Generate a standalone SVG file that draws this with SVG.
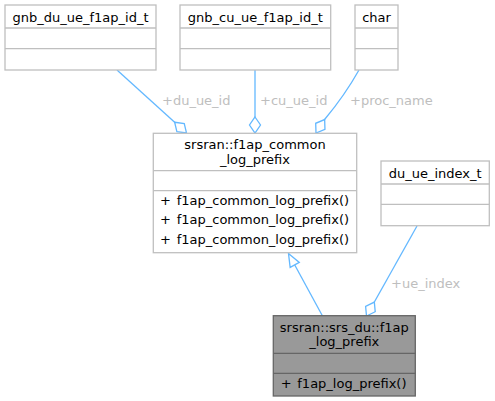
<svg xmlns="http://www.w3.org/2000/svg" width="495" height="401" viewBox="0 0 495 401">
<style>
text{font-family:"DejaVu Sans",sans-serif;font-size:13px;fill:#000}
.t{text-anchor:middle}
.lbl{fill:#bebebe}
.box{fill:#fff;stroke:#bfbfbf;stroke-width:1.3}
.cur{fill:#999;stroke:#666;stroke-width:1.3}
.dv{stroke:#bfbfbf;stroke-width:1.3}
.dvc{stroke:#666;stroke-width:1.3}
.e{fill:none;stroke:#63b8ff;stroke-width:1.3}
</style>
<defs>
<marker id="dia" markerUnits="userSpaceOnUse" markerWidth="20" markerHeight="14" refX="16" refY="7" orient="auto" overflow="visible">
<path d="M0,7 L8,1.5 L16,7 L8,12.5 Z" fill="#fff" stroke="#63b8ff" stroke-width="1.3"/>
</marker>
<marker id="tri" markerUnits="userSpaceOnUse" markerWidth="16" markerHeight="12" refX="13" refY="6" orient="auto" overflow="visible">
<path d="M0,0.8 L13,6 L0,11.2 Z" fill="#fff" stroke="#63b8ff" stroke-width="1.3"/>
</marker>
</defs>
<g id="edges">
<path class="e" d="M117,70 L186.5,133" marker-end="url(#dia)"/>
<path class="e" d="M255,70 L255,133" marker-end="url(#dia)"/>
<path class="e" d="M359,70 C350,86 340,101 325,119 L316,133" marker-end="url(#dia)"/>
<path class="e" d="M417,226 L366.5,316" marker-end="url(#dia)"/>
<path class="e" d="M322.5,316 L288.5,253.5" marker-end="url(#tri)"/>
<text class="lbl" x="162" y="104.5">+du_ue_id</text>
<text class="lbl" x="260" y="104.5">+cu_ue_id</text>
<text class="lbl" x="350" y="104.5">+proc_name</text>
<text class="lbl" x="391" y="288">+ue_index</text>
</g>
<g id="gnb_du_ue_f1ap_id_t">
<rect class="box" x="5" y="5" width="151" height="65"/>
<line class="dv" x1="5" y1="28" x2="156" y2="28"/>
<line class="dv" x1="5" y1="48.7" x2="156" y2="48.7"/>
<text class="t" x="80.5" y="21.5">gnb_du_ue_f1ap_id_t</text>
</g>
<g id="gnb_cu_ue_f1ap_id_t">
<rect class="box" x="180" y="5" width="150.7" height="65"/>
<line class="dv" x1="180" y1="28" x2="330.7" y2="28"/>
<line class="dv" x1="180" y1="48.7" x2="330.7" y2="48.7"/>
<text class="t" x="255.3" y="21.5">gnb_cu_ue_f1ap_id_t</text>
</g>
<g id="char">
<rect class="box" x="355" y="5" width="43" height="65"/>
<line class="dv" x1="355" y1="28" x2="398" y2="28"/>
<line class="dv" x1="355" y1="48.7" x2="398" y2="48.7"/>
<text class="t" x="376.5" y="21.5">char</text>
</g>
<g id="f1ap_common_log_prefix">
<rect class="box" x="153.3" y="133.3" width="203.4" height="119.4"/>
<line class="dv" x1="153.3" y1="170.7" x2="356.7" y2="170.7"/>
<line class="dv" x1="153.3" y1="190.7" x2="356.7" y2="190.7"/>
<text class="t" x="255" y="149">srsran::f1ap_common</text>
<text class="t" x="255" y="163.5">_log_prefix</text>
<text x="160" y="204.5">+<tspan x="176.7">f1ap_common_log_prefix()</tspan></text>
<text x="160" y="224">+<tspan x="176.7">f1ap_common_log_prefix()</tspan></text>
<text x="160" y="243.5">+<tspan x="176.7">f1ap_common_log_prefix()</tspan></text>
</g>
<g id="du_ue_index_t">
<rect class="box" x="381" y="161" width="108.3" height="64.7"/>
<line class="dv" x1="381" y1="184" x2="489.3" y2="184"/>
<line class="dv" x1="381" y1="204.3" x2="489.3" y2="204.3"/>
<text class="t" x="435.2" y="177.5">du_ue_index_t</text>
</g>
<g id="f1ap_log_prefix">
<rect class="cur" x="273.3" y="315.7" width="142" height="80.3"/>
<line class="dvc" x1="273.3" y1="353.3" x2="415.3" y2="353.3"/>
<line class="dvc" x1="273.3" y1="373.3" x2="415.3" y2="373.3"/>
<text class="t" x="344.3" y="331.5">srsran::srs_du::f1ap</text>
<text class="t" x="344.3" y="346">_log_prefix</text>
<text x="280.7" y="387.5">+<tspan x="297.3">f1ap_log_prefix()</tspan></text>
</g>
</svg>
